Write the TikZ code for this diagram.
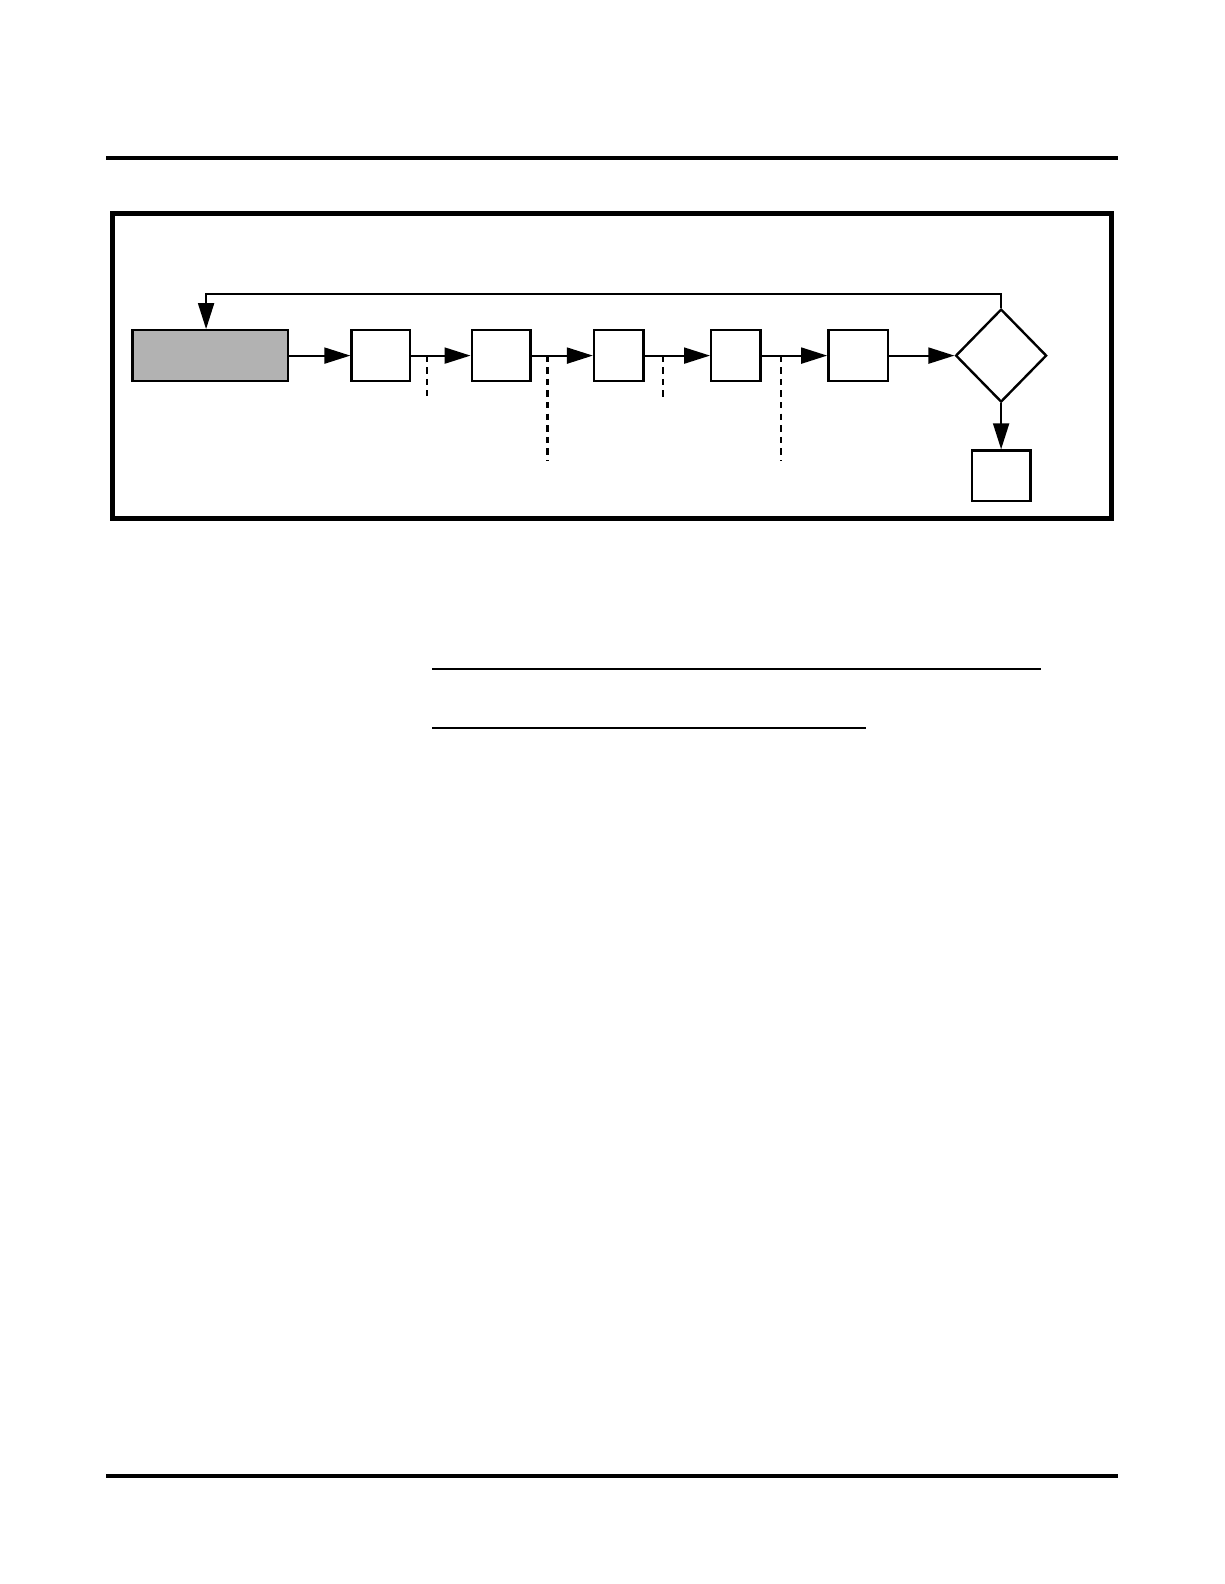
\documentclass[tikz,border=0pt]{standalone}
\usepackage{tikz}
\usetikzlibrary{arrows.meta,shapes.geometric}
\definecolor{shade}{gray}{0.70}
\tikzstyle{stage} = [draw=black, line width=1.2pt, rectangle, minimum height=25.3pt, inner sep=0pt]
\tikzstyle{test} = [draw=black, line width=1.2pt, diamond, minimum width=45.5pt, minimum height=46.5pt, inner sep=0pt]
\tikzstyle{flow} = [line width=1pt, -{Triangle[length=13pt,width=8pt]}]
\tikzstyle{tap} = [line width=1.1pt, dash pattern=on 3.2pt off 2.6pt]

\begin{document}
\begin{tikzpicture}[x=0.505pt,y=-0.505pt]
\useasboundingbox (0,0) rectangle (1212,1568);
% page rules
\draw[line width=2pt] (105,156) -- (1107,156);
\draw[line width=2pt] (105,1461) -- (1107,1461);
\draw[line width=2.6pt] (111,211) rectangle (1100,513);
\draw[line width=1pt] (428,662) -- (1030,662);
\draw[line width=1pt] (428,721) -- (857,721);

% stages
\node [stage, fill=shade, minimum width=77.8pt] (init) at (208,352) {};
\node [stage, minimum width=29.3pt] (s1) at (377,352) {};
\node [stage, minimum width=29.3pt] (s2) at (496,352) {};
\node [stage, minimum width=24.7pt] (s3) at (612.5,352) {};
\node [stage, minimum width=24.7pt] (s4) at (728.5,352) {};
\node [stage, minimum width=29.8pt] (s5) at (849.5,352) {};
\node [test] (check) at (991,352) {};
\node [stage, minimum width=29.3pt] (done) at (991,471) {};
\coordinate (back) at (204,291);

\draw[flow] (init) -- (s1);
\draw[flow] (s1) -- (s2);
\draw[flow] (s2) -- (s3);
\draw[flow] (s3) -- (s4);
\draw[flow] (s4) -- (s5);
\draw[flow] (s5) -- (check);
\draw[flow] (check) -- (done);
\draw[flow] (check.north) |- (back) -- (back |- init.north);

% taps
\foreach \x/\y in {423/392, 542/456, 656/393, 773/456}
    \draw[tap] (\x,352) -- (\x,\y);
\end{tikzpicture}
\end{document}
